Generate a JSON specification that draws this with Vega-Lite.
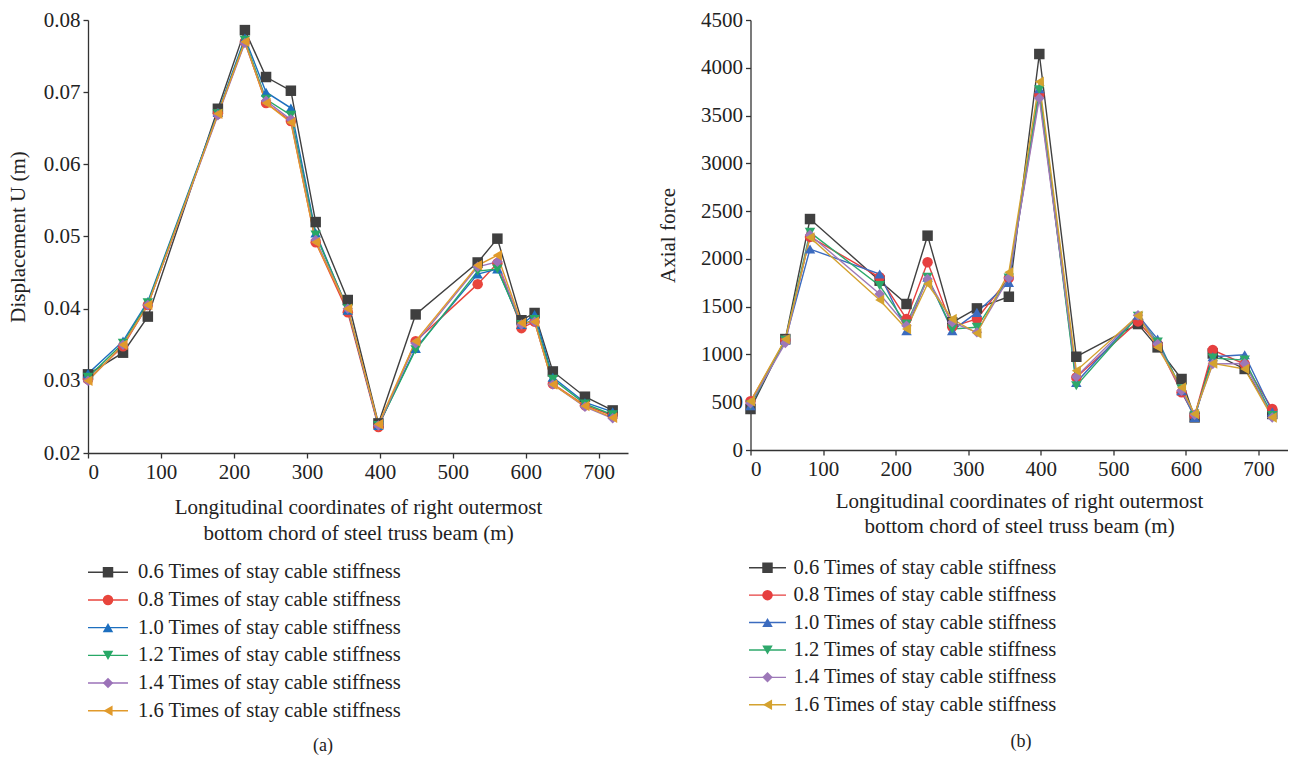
{
  "$schema": "https://vega.github.io/schema/vega-lite/v6.json",
  "padding": {"left": 7, "top": 9, "right": 2, "bottom": 0},
  "background": "white",
  "config": {
    "view": {"stroke": null},
    "font": "Liberation Serif",
    "axis": {"grid": false, "domainColor": "#333", "domainWidth": 1.3, "tickColor": "#333", "tickWidth": 1.3, "tickSize": 5, "labelFont": "Liberation Serif", "labelFontSize": 21, "labelColor": "#222", "labelPadding": 3, "titleFont": "Liberation Serif", "titleFontSize": 21, "titleFontWeight": "normal", "titleColor": "#222", "titleLineHeight": 26},
    "legend": {"labelFont": "Liberation Serif", "labelFontSize": 20.5, "labelColor": "#222", "padding": 0, "rowPadding": 7, "labelLimit": 600}
  },
  "datasets": {
    "disp": [
      {"s":"0.6","x":0,"y":0.0309},{"s":"0.6","x":48,"y":0.0339},{"s":"0.6","x":82,"y":0.0389},{"s":"0.6","x":178,"y":0.0677},{"s":"0.6","x":215,"y":0.0786},{"s":"0.6","x":244,"y":0.0721},{"s":"0.6","x":278,"y":0.0702},{"s":"0.6","x":312,"y":0.0520},{"s":"0.6","x":356,"y":0.0412},{"s":"0.6","x":398,"y":0.0241},{"s":"0.6","x":449,"y":0.0392},{"s":"0.6","x":534,"y":0.0464},{"s":"0.6","x":561,"y":0.0497},{"s":"0.6","x":594,"y":0.0384},{"s":"0.6","x":612,"y":0.0394},{"s":"0.6","x":637,"y":0.0313},{"s":"0.6","x":681,"y":0.0278},{"s":"0.6","x":719,"y":0.0259},
      {"s":"0.8","x":0,"y":0.0302},{"s":"0.8","x":48,"y":0.0348},{"s":"0.8","x":82,"y":0.0405},{"s":"0.8","x":178,"y":0.0670},{"s":"0.8","x":215,"y":0.0770},{"s":"0.8","x":244,"y":0.0685},{"s":"0.8","x":278,"y":0.0660},{"s":"0.8","x":312,"y":0.0492},{"s":"0.8","x":356,"y":0.0395},{"s":"0.8","x":398,"y":0.0236},{"s":"0.8","x":449,"y":0.0355},{"s":"0.8","x":534,"y":0.0434},{"s":"0.8","x":561,"y":0.0463},{"s":"0.8","x":594,"y":0.0373},{"s":"0.8","x":612,"y":0.0382},{"s":"0.8","x":637,"y":0.0296},{"s":"0.8","x":681,"y":0.0266},{"s":"0.8","x":719,"y":0.0252},
      {"s":"1.0","x":0,"y":0.0310},{"s":"1.0","x":48,"y":0.0355},{"s":"1.0","x":82,"y":0.0410},{"s":"1.0","x":178,"y":0.0672},{"s":"1.0","x":215,"y":0.0775},{"s":"1.0","x":244,"y":0.0700},{"s":"1.0","x":278,"y":0.0678},{"s":"1.0","x":312,"y":0.0505},{"s":"1.0","x":356,"y":0.0398},{"s":"1.0","x":398,"y":0.0238},{"s":"1.0","x":449,"y":0.0345},{"s":"1.0","x":534,"y":0.0448},{"s":"1.0","x":561,"y":0.0455},{"s":"1.0","x":594,"y":0.0378},{"s":"1.0","x":612,"y":0.0392},{"s":"1.0","x":637,"y":0.0305},{"s":"1.0","x":681,"y":0.0270},{"s":"1.0","x":719,"y":0.0257},
      {"s":"1.2","x":0,"y":0.0305},{"s":"1.2","x":48,"y":0.0352},{"s":"1.2","x":82,"y":0.0408},{"s":"1.2","x":178,"y":0.0670},{"s":"1.2","x":215,"y":0.0772},{"s":"1.2","x":244,"y":0.0690},{"s":"1.2","x":278,"y":0.0668},{"s":"1.2","x":312,"y":0.0502},{"s":"1.2","x":356,"y":0.0400},{"s":"1.2","x":398,"y":0.0238},{"s":"1.2","x":449,"y":0.0343},{"s":"1.2","x":534,"y":0.0452},{"s":"1.2","x":561,"y":0.0455},{"s":"1.2","x":594,"y":0.0378},{"s":"1.2","x":612,"y":0.0385},{"s":"1.2","x":637,"y":0.0302},{"s":"1.2","x":681,"y":0.0268},{"s":"1.2","x":719,"y":0.0253},
      {"s":"1.4","x":0,"y":0.0300},{"s":"1.4","x":48,"y":0.0350},{"s":"1.4","x":82,"y":0.0405},{"s":"1.4","x":178,"y":0.0668},{"s":"1.4","x":215,"y":0.0768},{"s":"1.4","x":244,"y":0.0688},{"s":"1.4","x":278,"y":0.0662},{"s":"1.4","x":312,"y":0.0495},{"s":"1.4","x":356,"y":0.0400},{"s":"1.4","x":398,"y":0.0238},{"s":"1.4","x":449,"y":0.0352},{"s":"1.4","x":534,"y":0.0458},{"s":"1.4","x":561,"y":0.0465},{"s":"1.4","x":594,"y":0.0378},{"s":"1.4","x":612,"y":0.0382},{"s":"1.4","x":637,"y":0.0295},{"s":"1.4","x":681,"y":0.0264},{"s":"1.4","x":719,"y":0.0248},
      {"s":"1.6","x":0,"y":0.0300},{"s":"1.6","x":48,"y":0.0350},{"s":"1.6","x":82,"y":0.0405},{"s":"1.6","x":178,"y":0.0670},{"s":"1.6","x":215,"y":0.0770},{"s":"1.6","x":244,"y":0.0685},{"s":"1.6","x":278,"y":0.0658},{"s":"1.6","x":312,"y":0.0492},{"s":"1.6","x":356,"y":0.0400},{"s":"1.6","x":398,"y":0.0240},{"s":"1.6","x":449,"y":0.0355},{"s":"1.6","x":534,"y":0.0460},{"s":"1.6","x":561,"y":0.0474},{"s":"1.6","x":594,"y":0.0380},{"s":"1.6","x":612,"y":0.0382},{"s":"1.6","x":637,"y":0.0295},{"s":"1.6","x":681,"y":0.0265},{"s":"1.6","x":719,"y":0.0249}
    ],
    "axial": [
      {"s":"0.6","x":0,"y":429},{"s":"0.6","x":48,"y":1161},{"s":"0.6","x":82,"y":2417},{"s":"0.6","x":178,"y":1772},{"s":"0.6","x":215,"y":1528},{"s":"0.6","x":244,"y":2243},{"s":"0.6","x":278,"y":1336},{"s":"0.6","x":312,"y":1482},{"s":"0.6","x":356,"y":1604},{"s":"0.6","x":398,"y":4144},{"s":"0.6","x":449,"y":976},{"s":"0.6","x":534,"y":1318},{"s":"0.6","x":561,"y":1074},{"s":"0.6","x":594,"y":743},{"s":"0.6","x":612,"y":341},{"s":"0.6","x":637,"y":1010},{"s":"0.6","x":681,"y":848},{"s":"0.6","x":719,"y":377},
      {"s":"0.8","x":0,"y":510},{"s":"0.8","x":48,"y":1150},{"s":"0.8","x":82,"y":2230},{"s":"0.8","x":178,"y":1807},{"s":"0.8","x":215,"y":1371},{"s":"0.8","x":244,"y":1964},{"s":"0.8","x":278,"y":1290},{"s":"0.8","x":312,"y":1371},{"s":"0.8","x":356,"y":1800},{"s":"0.8","x":398,"y":3720},{"s":"0.8","x":449,"y":760},{"s":"0.8","x":534,"y":1346},{"s":"0.8","x":561,"y":1110},{"s":"0.8","x":594,"y":603},{"s":"0.8","x":612,"y":360},{"s":"0.8","x":637,"y":1046},{"s":"0.8","x":681,"y":900},{"s":"0.8","x":719,"y":429},
      {"s":"1.0","x":0,"y":464},{"s":"1.0","x":48,"y":1150},{"s":"1.0","x":82,"y":2103},{"s":"1.0","x":178,"y":1842},{"s":"1.0","x":215,"y":1249},{"s":"1.0","x":244,"y":1807},{"s":"1.0","x":278,"y":1249},{"s":"1.0","x":312,"y":1440},{"s":"1.0","x":356,"y":1754},{"s":"1.0","x":398,"y":3780},{"s":"1.0","x":449,"y":708},{"s":"1.0","x":534,"y":1410},{"s":"1.0","x":561,"y":1160},{"s":"1.0","x":594,"y":620},{"s":"1.0","x":612,"y":340},{"s":"1.0","x":637,"y":976},{"s":"1.0","x":681,"y":997},{"s":"1.0","x":719,"y":400},
      {"s":"1.2","x":0,"y":470},{"s":"1.2","x":48,"y":1150},{"s":"1.2","x":82,"y":2278},{"s":"1.2","x":178,"y":1720},{"s":"1.2","x":215,"y":1318},{"s":"1.2","x":244,"y":1807},{"s":"1.2","x":278,"y":1266},{"s":"1.2","x":312,"y":1284},{"s":"1.2","x":356,"y":1800},{"s":"1.2","x":398,"y":3770},{"s":"1.2","x":449,"y":673},{"s":"1.2","x":534,"y":1400},{"s":"1.2","x":561,"y":1130},{"s":"1.2","x":594,"y":640},{"s":"1.2","x":612,"y":360},{"s":"1.2","x":637,"y":962},{"s":"1.2","x":681,"y":941},{"s":"1.2","x":719,"y":360},
      {"s":"1.4","x":0,"y":490},{"s":"1.4","x":48,"y":1120},{"s":"1.4","x":82,"y":2250},{"s":"1.4","x":178,"y":1632},{"s":"1.4","x":215,"y":1301},{"s":"1.4","x":244,"y":1789},{"s":"1.4","x":278,"y":1336},{"s":"1.4","x":312,"y":1231},{"s":"1.4","x":356,"y":1800},{"s":"1.4","x":398,"y":3680},{"s":"1.4","x":449,"y":767},{"s":"1.4","x":534,"y":1410},{"s":"1.4","x":561,"y":1110},{"s":"1.4","x":594,"y":620},{"s":"1.4","x":612,"y":370},{"s":"1.4","x":637,"y":900},{"s":"1.4","x":681,"y":906},{"s":"1.4","x":719,"y":340},
      {"s":"1.6","x":0,"y":510},{"s":"1.6","x":48,"y":1160},{"s":"1.6","x":82,"y":2225},{"s":"1.6","x":178,"y":1569},{"s":"1.6","x":215,"y":1266},{"s":"1.6","x":244,"y":1737},{"s":"1.6","x":278,"y":1371},{"s":"1.6","x":312,"y":1221},{"s":"1.6","x":356,"y":1859},{"s":"1.6","x":398,"y":3854},{"s":"1.6","x":449,"y":830},{"s":"1.6","x":534,"y":1405},{"s":"1.6","x":561,"y":1074},{"s":"1.6","x":594,"y":655},{"s":"1.6","x":612,"y":377},{"s":"1.6","x":637,"y":906},{"s":"1.6","x":681,"y":848},{"s":"1.6","x":719,"y":341}
    ]
  },
  "spacing": 29.5,
  "resolve": {"scale": {"color": "independent", "stroke": "independent", "shape": "independent"}, "legend": {"color": "independent", "stroke": "independent", "shape": "independent"}},
  "hconcat": [
    {
      "width": 540, "height": 433,
      "data": {"name": "disp"},
      "title": {"text": "(a)", "orient": "bottom", "anchor": "middle", "frame": "group", "offset": 15, "fontSize": 18, "fontWeight": "normal", "font": "Liberation Serif", "color": "#222", "dx": -35},
      "layer": [
        {
          "mark": {"type": "line", "strokeWidth": 1.4},
          "encoding": {
            "x": {"field": "x", "type": "quantitative", "scale": {"domain": [0, 740], "nice": false},
                  "axis": {"values": [0,50,100,150,200,250,300,350,400,450,500,550,600,650,700], "labelExpr": "datum.value % 100 === 0 ? datum.label : ''", "title": ["Longitudinal coordinates of right outermost", "bottom chord of steel truss beam (m)"], "titlePadding": 14}},
            "y": {"field": "y", "type": "quantitative", "scale": {"domain": [0.02, 0.08], "nice": false, "zero": false},
                  "axis": {"values": [0.02,0.025,0.03,0.035,0.04,0.045,0.05,0.055,0.06,0.065,0.07,0.075,0.08], "format": ".2f", "labelExpr": "round(datum.value*1000) % 10 === 0 ? datum.label : ''", "title": "Displacement U (m)", "titlePadding": 15}},
            "stroke": {"field": "s", "type": "nominal", "scale": {"domain": ["0.6","0.8","1.0","1.2","1.4","1.6"], "range": ["#3f3f3f","#e8453c","#1d6fbf","#27a866","#9b72b8","#e19a2b"]},
                       "legend": {"orient": "none", "legendX": 9.75, "legendY": 542, "rowPadding": 6.7, "symbolType": "M-2.5,0H2.5", "symbolSize": 256, "symbolStrokeWidth": 1.4, "title": null, "labelOffset": 19.75, "labelExpr": "datum.label + ' Times of stay cable stiffness'"}}
          }
        },
        {
          "mark": {"type": "point", "filled": true, "size": 110, "opacity": 1},
          "encoding": {
            "x": {"field": "x", "type": "quantitative"},
            "y": {"field": "y", "type": "quantitative"},
            "color": {"field": "s", "type": "nominal", "scale": {"range": ["#3f3f3f","#e8453c","#1d6fbf","#27a866","#9b72b8","#e19a2b"]},
                      "legend": {"orient": "none", "legendX": 9.75, "legendY": 542, "rowPadding": 6.7, "symbolSize": 110, "symbolStrokeWidth": 0, "title": null, "zindex": 2, "labelExpr": "' '"}},
            "shape": {"field": "s", "type": "nominal", "scale": {"range": ["square","circle","triangle-up","triangle-down","diamond","triangle-left"]},
                      "legend": {"orient": "none", "legendX": 9.75, "legendY": 542, "rowPadding": 6.7, "symbolSize": 110, "symbolStrokeWidth": 0, "title": null, "zindex": 2, "labelExpr": "' '"}}
          }
        }
      ]
    },
    {
      "width": 537, "height": 430,
      "data": {"name": "axial"},
      "title": {"text": "(b)", "orient": "bottom", "anchor": "middle", "frame": "group", "offset": 17, "fontSize": 18, "fontWeight": "normal", "font": "Liberation Serif", "color": "#222", "dx": 2},
      "layer": [
        {
          "mark": {"type": "line", "strokeWidth": 1.4},
          "encoding": {
            "x": {"field": "x", "type": "quantitative", "scale": {"domain": [0, 740], "nice": false},
                  "axis": {"values": [0,50,100,150,200,250,300,350,400,450,500,550,600,650,700], "labelExpr": "datum.value % 100 === 0 ? datum.label : ''", "title": ["Longitudinal coordinates of right outermost", "bottom chord of steel truss beam (m)"], "titlePadding": 11, "titleLineHeight": 25.5}},
            "y": {"field": "y", "type": "quantitative", "scale": {"domain": [0, 4500], "nice": false},
                  "axis": {"values": [0,250,500,750,1000,1250,1500,1750,2000,2250,2500,2750,3000,3250,3500,3750,4000,4250,4500], "format": "d", "labelExpr": "datum.value % 500 === 0 ? datum.label : ''", "title": "Axial force", "titlePadding": 22}},
            "stroke": {"field": "s", "type": "nominal", "scale": {"domain": ["0.6","0.8","1.0","1.2","1.4","1.6"], "range": ["#404040","#e63f3f","#3b6bbf","#2ea86b","#9d78b8","#d4a22f"]},
                       "legend": {"orient": "none", "legendX": 6.75, "legendY": 537.5, "rowPadding": 6.4, "symbolType": "M-2.3125,0H2.3125", "symbolSize": 256, "symbolStrokeWidth": 1.4, "title": null, "labelOffset": 15.75, "labelExpr": "datum.label + ' Times of stay cable stiffness'"}}
          }
        },
        {
          "mark": {"type": "point", "filled": true, "size": 110, "opacity": 1},
          "encoding": {
            "x": {"field": "x", "type": "quantitative"},
            "y": {"field": "y", "type": "quantitative"},
            "color": {"field": "s", "type": "nominal", "scale": {"range": ["#404040","#e63f3f","#3b6bbf","#2ea86b","#9d78b8","#d4a22f"]},
                      "legend": {"orient": "none", "legendX": 6.75, "legendY": 537.5, "rowPadding": 6.4, "symbolSize": 110, "symbolStrokeWidth": 0, "title": null, "zindex": 2, "labelExpr": "' '"}},
            "shape": {"field": "s", "type": "nominal", "scale": {"range": ["square","circle","triangle-up","triangle-down","diamond","triangle-left"]},
                      "legend": {"orient": "none", "legendX": 6.75, "legendY": 537.5, "rowPadding": 6.4, "symbolSize": 110, "symbolStrokeWidth": 0, "title": null, "zindex": 2, "labelExpr": "' '"}}
          }
        }
      ]
    }
  ]
}
